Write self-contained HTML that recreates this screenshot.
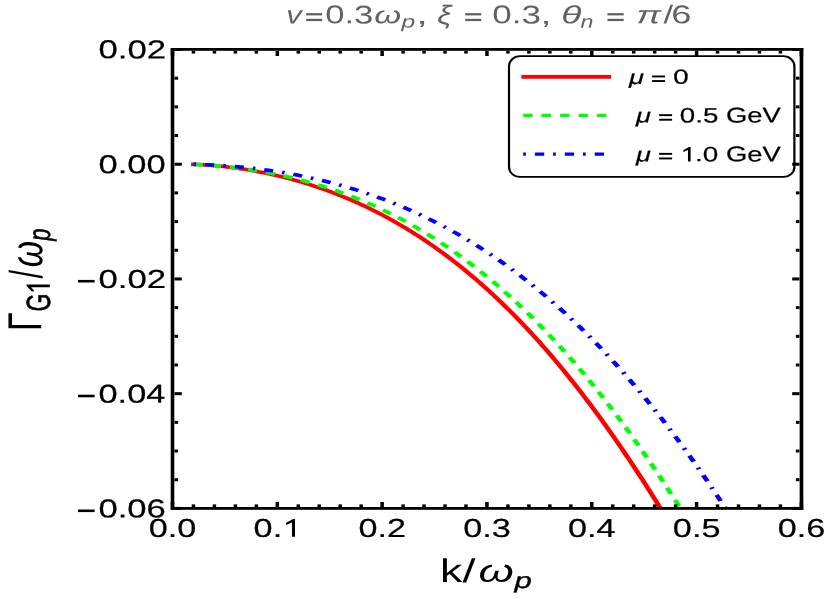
<!DOCTYPE html>
<html><head><meta charset="utf-8"><title>plot</title>
<style>
html,body{margin:0;padding:0;background:#fff;}
svg{display:block;will-change:transform;}
text{font-family:"Liberation Sans",sans-serif;font-kerning:none;}
.i{font-style:italic;}
</style></head><body>
<svg width="828" height="599" viewBox="0 0 828 599">
<rect x="0" y="0" width="828" height="599" fill="#ffffff"/>
<defs><clipPath id="cp"><rect x="172.50" y="49.50" width="628.90" height="458.90"/></clipPath></defs>

<g clip-path="url(#cp)"><g transform="scale(1.35,1)" fill="none" stroke-width="3.6">
<path d="M143.33,164.30 L144.44,164.36 L145.56,164.43 L146.67,164.51 L147.78,164.59 L148.89,164.67 L150.00,164.76 L151.11,164.86 L152.22,164.96 L153.33,165.06 L154.44,165.17 L155.56,165.29 L156.67,165.41 L157.78,165.53 L158.89,165.66 L160.00,165.80 L161.11,165.94 L162.22,166.08 L163.33,166.23 L164.44,166.39 L165.56,166.55 L166.67,166.71 L167.78,166.88 L168.89,167.06 L170.00,167.24 L171.11,167.43 L172.22,167.62 L173.33,167.81 L174.44,168.02 L175.56,168.22 L176.67,168.43 L177.78,168.65 L178.89,168.87 L180.00,169.10 L181.11,169.33 L182.22,169.57 L183.33,169.81 L184.44,170.06 L185.56,170.31 L186.67,170.57 L187.78,170.83 L188.89,171.10 L190.00,171.38 L191.11,171.66 L192.22,171.94 L193.33,172.23 L194.44,172.53 L195.56,172.83 L196.67,173.13 L197.78,173.44 L198.89,173.76 L200.00,174.08 L201.11,174.41 L202.22,174.74 L203.33,175.08 L204.44,175.42 L205.56,175.77 L206.67,176.13 L207.78,176.49 L208.89,176.85 L210.00,177.23 L211.11,177.60 L212.22,177.99 L213.33,178.37 L214.44,178.77 L215.56,179.17 L216.67,179.57 L217.78,179.98 L218.89,180.40 L220.00,180.82 L221.11,181.25 L222.22,181.68 L223.33,182.12 L224.44,182.57 L225.56,183.02 L226.67,183.47 L227.78,183.94 L228.89,184.40 L230.00,184.88 L231.11,185.36 L232.22,185.85 L233.33,186.34 L234.44,186.84 L235.56,187.34 L236.67,187.85 L237.78,188.37 L238.89,188.89 L240.00,189.42 L241.11,189.95 L242.22,190.49 L243.33,191.04 L244.44,191.59 L245.56,192.15 L246.67,192.72 L247.78,193.29 L248.89,193.87 L250.00,194.46 L251.11,195.05 L252.22,195.64 L253.33,196.25 L254.44,196.86 L255.56,197.48 L256.67,198.10 L257.78,198.73 L258.89,199.37 L260.00,200.01 L261.11,200.66 L262.22,201.31 L263.33,201.98 L264.44,202.65 L265.56,203.32 L266.67,204.01 L267.78,204.70 L268.89,205.39 L270.00,206.10 L271.11,206.81 L272.22,207.52 L273.33,208.25 L274.44,208.98 L275.56,209.72 L276.67,210.46 L277.78,211.21 L278.89,211.97 L280.00,212.74 L281.11,213.51 L282.22,214.29 L283.33,215.08 L284.44,215.88 L285.56,216.68 L286.67,217.49 L287.78,218.30 L288.89,219.13 L290.00,219.96 L291.11,220.80 L292.22,221.64 L293.33,222.50 L294.44,223.36 L295.56,224.22 L296.67,225.10 L297.78,225.98 L298.89,226.87 L300.00,227.77 L301.11,228.68 L302.22,229.59 L303.33,230.51 L304.44,231.44 L305.56,232.38 L306.67,233.32 L307.78,234.27 L308.89,235.23 L310.00,236.20 L311.11,237.18 L312.22,238.16 L313.33,239.15 L314.44,240.15 L315.56,241.16 L316.67,242.17 L317.78,243.20 L318.89,244.23 L320.00,245.27 L321.11,246.31 L322.22,247.37 L323.33,248.43 L324.44,249.50 L325.56,250.58 L326.67,251.67 L327.78,252.77 L328.89,253.87 L330.00,254.99 L331.11,256.11 L332.22,257.24 L333.33,258.37 L334.44,259.52 L335.56,260.68 L336.67,261.84 L337.78,263.01 L338.89,264.19 L340.00,265.38 L341.11,266.58 L342.22,267.78 L343.33,269.00 L344.44,270.22 L345.56,271.45 L346.67,272.69 L347.78,273.94 L348.89,275.20 L350.00,276.46 L351.11,277.74 L352.22,279.02 L353.33,280.32 L354.44,281.62 L355.56,282.93 L356.67,284.25 L357.78,285.58 L358.89,286.91 L360.00,288.26 L361.11,289.61 L362.22,290.98 L363.33,292.35 L364.44,293.73 L365.56,295.12 L366.67,296.52 L367.78,297.93 L368.89,299.35 L370.00,300.78 L371.11,302.21 L372.22,303.66 L373.33,305.11 L374.44,306.58 L375.56,308.05 L376.67,309.53 L377.78,311.02 L378.89,312.52 L380.00,314.03 L381.11,315.55 L382.22,317.08 L383.33,318.61 L384.44,320.16 L385.56,321.72 L386.67,323.28 L387.78,324.86 L388.89,326.44 L390.00,328.03 L391.11,329.64 L392.22,331.25 L393.33,332.87 L394.44,334.50 L395.56,336.14 L396.67,337.79 L397.78,339.45 L398.89,341.12 L400.00,342.79 L401.11,344.48 L402.22,346.18 L403.33,347.88 L404.44,349.60 L405.56,351.32 L406.67,353.06 L407.78,354.80 L408.89,356.56 L410.00,358.32 L411.11,360.09 L412.22,361.87 L413.33,363.67 L414.44,365.47 L415.56,367.28 L416.67,369.10 L417.78,370.93 L418.89,372.77 L420.00,374.62 L421.11,376.47 L422.22,378.34 L423.33,380.22 L424.44,382.11 L425.56,384.00 L426.67,385.91 L427.78,387.82 L428.89,389.75 L430.00,391.68 L431.11,393.63 L432.22,395.58 L433.33,397.54 L434.44,399.52 L435.56,401.50 L436.67,403.49 L437.78,405.49 L438.89,407.50 L440.00,409.52 L441.11,411.55 L442.22,413.59 L443.33,415.64 L444.44,417.69 L445.56,419.76 L446.67,421.84 L447.78,423.92 L448.89,426.02 L450.00,428.12 L451.11,430.24 L452.22,432.36 L453.33,434.49 L454.44,436.64 L455.56,438.79 L456.67,440.95 L457.78,443.12 L458.89,445.30 L460.00,447.49 L461.11,449.68 L462.22,451.89 L463.33,454.11 L464.44,456.33 L465.56,458.56 L466.67,460.81 L467.78,463.06 L468.89,465.32 L470.00,467.59 L471.11,469.87 L472.22,472.16 L473.33,474.46 L474.44,476.76 L475.56,479.08 L476.67,481.40 L477.78,483.74 L478.89,486.08 L480.00,488.43 L481.11,490.79 L482.22,493.16 L483.33,495.53 L484.44,497.92 L485.56,500.31 L486.67,502.72 L487.78,505.13 L488.89,507.55 L490.00,509.98 L491.11,512.41" stroke="#ff0000" stroke-linecap="square"/>
<path d="M143.33,164.30 L144.44,164.37 L145.56,164.44 L146.67,164.52 L147.78,164.60 L148.89,164.68 L150.00,164.77 L151.11,164.86 L152.22,164.96 L153.33,165.06 L154.44,165.16 L155.56,165.27 L156.67,165.38 L157.78,165.49 L158.89,165.61 L160.00,165.74 L161.11,165.87 L162.22,166.00 L163.33,166.14 L164.44,166.28 L165.56,166.42 L166.67,166.57 L167.78,166.72 L168.89,166.88 L170.00,167.04 L171.11,167.21 L172.22,167.38 L173.33,167.55 L174.44,167.73 L175.56,167.92 L176.67,168.10 L177.78,168.30 L178.89,168.49 L180.00,168.69 L181.11,168.90 L182.22,169.11 L183.33,169.32 L184.44,169.54 L185.56,169.77 L186.67,169.99 L187.78,170.23 L188.89,170.46 L190.00,170.71 L191.11,170.95 L192.22,171.20 L193.33,171.46 L194.44,171.72 L195.56,171.98 L196.67,172.25 L197.78,172.53 L198.89,172.81 L200.00,173.09 L201.11,173.38 L202.22,173.67 L203.33,173.97 L204.44,174.28 L205.56,174.58 L206.67,174.90 L207.78,175.22 L208.89,175.54 L210.00,175.87 L211.11,176.20 L212.22,176.54 L213.33,176.88 L214.44,177.23 L215.56,177.58 L216.67,177.94 L217.78,178.31 L218.89,178.68 L220.00,179.05 L221.11,179.43 L222.22,179.81 L223.33,180.20 L224.44,180.60 L225.56,181.00 L226.67,181.41 L227.78,181.82 L228.89,182.23 L230.00,182.65 L231.11,183.08 L232.22,183.51 L233.33,183.95 L234.44,184.40 L235.56,184.85 L236.67,185.30 L237.78,185.76 L238.89,186.23 L240.00,186.70 L241.11,187.18 L242.22,187.66 L243.33,188.15 L244.44,188.64 L245.56,189.14 L246.67,189.65 L247.78,190.16 L248.89,190.68 L250.00,191.20 L251.11,191.73 L252.22,192.27 L253.33,192.81 L254.44,193.35 L255.56,193.91 L256.67,194.46 L257.78,195.03 L258.89,195.60 L260.00,196.18 L261.11,196.76 L262.22,197.35 L263.33,197.94 L264.44,198.55 L265.56,199.15 L266.67,199.77 L267.78,200.39 L268.89,201.01 L270.00,201.65 L271.11,202.28 L272.22,202.93 L273.33,203.58 L274.44,204.24 L275.56,204.90 L276.67,205.57 L277.78,206.25 L278.89,206.93 L280.00,207.62 L281.11,208.32 L282.22,209.02 L283.33,209.73 L284.44,210.45 L285.56,211.17 L286.67,211.90 L287.78,212.64 L288.89,213.38 L290.00,214.13 L291.11,214.89 L292.22,215.65 L293.33,216.42 L294.44,217.20 L295.56,217.98 L296.67,218.77 L297.78,219.57 L298.89,220.37 L300.00,221.18 L301.11,222.00 L302.22,222.83 L303.33,223.66 L304.44,224.50 L305.56,225.34 L306.67,226.20 L307.78,227.06 L308.89,227.92 L310.00,228.80 L311.11,229.68 L312.22,230.57 L313.33,231.46 L314.44,232.37 L315.56,233.28 L316.67,234.20 L317.78,235.12 L318.89,236.05 L320.00,236.99 L321.11,237.94 L322.22,238.90 L323.33,239.86 L324.44,240.83 L325.56,241.81 L326.67,242.79 L327.78,243.78 L328.89,244.78 L330.00,245.79 L331.11,246.80 L332.22,247.83 L333.33,248.86 L334.44,249.89 L335.56,250.94 L336.67,251.99 L337.78,253.05 L338.89,254.12 L340.00,255.20 L341.11,256.28 L342.22,257.37 L343.33,258.47 L344.44,259.58 L345.56,260.70 L346.67,261.82 L347.78,262.95 L348.89,264.09 L350.00,265.24 L351.11,266.39 L352.22,267.56 L353.33,268.73 L354.44,269.91 L355.56,271.09 L356.67,272.29 L357.78,273.49 L358.89,274.71 L360.00,275.92 L361.11,277.15 L362.22,278.39 L363.33,279.63 L364.44,280.89 L365.56,282.15 L366.67,283.42 L367.78,284.69 L368.89,285.98 L370.00,287.27 L371.11,288.57 L372.22,289.89 L373.33,291.20 L374.44,292.53 L375.56,293.87 L376.67,295.21 L377.78,296.56 L378.89,297.93 L380.00,299.30 L381.11,300.67 L382.22,302.06 L383.33,303.46 L384.44,304.86 L385.56,306.27 L386.67,307.69 L387.78,309.12 L388.89,310.56 L390.00,312.01 L391.11,313.46 L392.22,314.93 L393.33,316.40 L394.44,317.88 L395.56,319.37 L396.67,320.87 L397.78,322.38 L398.89,323.90 L400.00,325.42 L401.11,326.95 L402.22,328.50 L403.33,330.05 L404.44,331.61 L405.56,333.18 L406.67,334.76 L407.78,336.35 L408.89,337.94 L410.00,339.55 L411.11,341.16 L412.22,342.78 L413.33,344.41 L414.44,346.06 L415.56,347.71 L416.67,349.36 L417.78,351.03 L418.89,352.71 L420.00,354.39 L421.11,356.09 L422.22,357.79 L423.33,359.51 L424.44,361.23 L425.56,362.96 L426.67,364.70 L427.78,366.45 L428.89,368.21 L430.00,369.97 L431.11,371.75 L432.22,373.54 L433.33,375.33 L434.44,377.14 L435.56,378.95 L436.67,380.77 L437.78,382.60 L438.89,384.44 L440.00,386.29 L441.11,388.15 L442.22,390.02 L443.33,391.90 L444.44,393.79 L445.56,395.68 L446.67,397.59 L447.78,399.50 L448.89,401.43 L450.00,403.36 L451.11,405.30 L452.22,407.25 L453.33,409.21 L454.44,411.19 L455.56,413.16 L456.67,415.15 L457.78,417.15 L458.89,419.16 L460.00,421.18 L461.11,423.20 L462.22,425.24 L463.33,427.28 L464.44,429.34 L465.56,431.40 L466.67,433.47 L467.78,435.55 L468.89,437.65 L470.00,439.75 L471.11,441.86 L472.22,443.98 L473.33,446.11 L474.44,448.24 L475.56,450.39 L476.67,452.55 L477.78,454.71 L478.89,456.89 L480.00,459.07 L481.11,461.27 L482.22,463.47 L483.33,465.68 L484.44,467.91 L485.56,470.14 L486.67,472.38 L487.78,474.63 L488.89,476.89 L490.00,479.16 L491.11,481.43 L492.22,483.72 L493.33,486.02 L494.44,488.33 L495.56,490.64 L496.67,492.96 L497.78,495.30 L498.89,497.64 L500.00,499.99 L501.11,502.36 L502.22,504.73 L503.33,507.11 L504.44,509.50 L505.56,511.90 L506.67,514.30" stroke="#00ff00" stroke-dasharray="6.93 6.64"/>
<path d="M143.33,164.30 L144.44,164.34 L145.56,164.38 L146.67,164.42 L147.78,164.46 L148.89,164.51 L150.00,164.57 L151.11,164.62 L152.22,164.68 L153.33,164.75 L154.44,164.81 L155.56,164.88 L156.67,164.95 L157.78,165.03 L158.89,165.11 L160.00,165.19 L161.11,165.28 L162.22,165.37 L163.33,165.46 L164.44,165.56 L165.56,165.66 L166.67,165.76 L167.78,165.87 L168.89,165.98 L170.00,166.09 L171.11,166.21 L172.22,166.33 L173.33,166.45 L174.44,166.58 L175.56,166.71 L176.67,166.85 L177.78,166.99 L178.89,167.13 L180.00,167.28 L181.11,167.43 L182.22,167.58 L183.33,167.74 L184.44,167.90 L185.56,168.06 L186.67,168.23 L187.78,168.40 L188.89,168.57 L190.00,168.75 L191.11,168.94 L192.22,169.12 L193.33,169.31 L194.44,169.51 L195.56,169.71 L196.67,169.91 L197.78,170.11 L198.89,170.32 L200.00,170.54 L201.11,170.75 L202.22,170.97 L203.33,171.20 L204.44,171.43 L205.56,171.66 L206.67,171.90 L207.78,172.14 L208.89,172.39 L210.00,172.63 L211.11,172.89 L212.22,173.15 L213.33,173.41 L214.44,173.67 L215.56,173.94 L216.67,174.21 L217.78,174.49 L218.89,174.77 L220.00,175.06 L221.11,175.35 L222.22,175.65 L223.33,175.94 L224.44,176.25 L225.56,176.56 L226.67,176.87 L227.78,177.18 L228.89,177.50 L230.00,177.83 L231.11,178.16 L232.22,178.49 L233.33,178.83 L234.44,179.17 L235.56,179.52 L236.67,179.87 L237.78,180.22 L238.89,180.58 L240.00,180.95 L241.11,181.32 L242.22,181.69 L243.33,182.07 L244.44,182.45 L245.56,182.84 L246.67,183.23 L247.78,183.63 L248.89,184.03 L250.00,184.44 L251.11,184.85 L252.22,185.26 L253.33,185.69 L254.44,186.11 L255.56,186.54 L256.67,186.98 L257.78,187.41 L258.89,187.86 L260.00,188.31 L261.11,188.76 L262.22,189.22 L263.33,189.69 L264.44,190.16 L265.56,190.63 L266.67,191.11 L267.78,191.59 L268.89,192.08 L270.00,192.58 L271.11,193.08 L272.22,193.58 L273.33,194.09 L274.44,194.61 L275.56,195.13 L276.67,195.65 L277.78,196.18 L278.89,196.72 L280.00,197.26 L281.11,197.80 L282.22,198.36 L283.33,198.91 L284.44,199.47 L285.56,200.04 L286.67,200.61 L287.78,201.19 L288.89,201.78 L290.00,202.37 L291.11,202.96 L292.22,203.56 L293.33,204.17 L294.44,204.78 L295.56,205.39 L296.67,206.02 L297.78,206.65 L298.89,207.28 L300.00,207.92 L301.11,208.56 L302.22,209.21 L303.33,209.87 L304.44,210.53 L305.56,211.20 L306.67,211.87 L307.78,212.55 L308.89,213.24 L310.00,213.93 L311.11,214.63 L312.22,215.33 L313.33,216.04 L314.44,216.75 L315.56,217.47 L316.67,218.20 L317.78,218.93 L318.89,219.67 L320.00,220.42 L321.11,221.17 L322.22,221.92 L323.33,222.69 L324.44,223.46 L325.56,224.23 L326.67,225.01 L327.78,225.80 L328.89,226.60 L330.00,227.40 L331.11,228.20 L332.22,229.01 L333.33,229.83 L334.44,230.66 L335.56,231.49 L336.67,232.33 L337.78,233.17 L338.89,234.02 L340.00,234.88 L341.11,235.75 L342.22,236.62 L343.33,237.49 L344.44,238.38 L345.56,239.27 L346.67,240.16 L347.78,241.07 L348.89,241.98 L350.00,242.89 L351.11,243.82 L352.22,244.75 L353.33,245.68 L354.44,246.63 L355.56,247.57 L356.67,248.53 L357.78,249.50 L358.89,250.47 L360.00,251.44 L361.11,252.43 L362.22,253.42 L363.33,254.42 L364.44,255.42 L365.56,256.43 L366.67,257.45 L367.78,258.48 L368.89,259.51 L370.00,260.55 L371.11,261.60 L372.22,262.65 L373.33,263.71 L374.44,264.78 L375.56,265.85 L376.67,266.94 L377.78,268.03 L378.89,269.12 L380.00,270.23 L381.11,271.34 L382.22,272.46 L383.33,273.58 L384.44,274.72 L385.56,275.86 L386.67,277.00 L387.78,278.16 L388.89,279.32 L390.00,280.49 L391.11,281.67 L392.22,282.85 L393.33,284.05 L394.44,285.25 L395.56,286.45 L396.67,287.67 L397.78,288.89 L398.89,290.12 L400.00,291.36 L401.11,292.60 L402.22,293.86 L403.33,295.12 L404.44,296.38 L405.56,297.66 L406.67,298.94 L407.78,300.24 L408.89,301.53 L410.00,302.84 L411.11,304.16 L412.22,305.48 L413.33,306.81 L414.44,308.15 L415.56,309.49 L416.67,310.85 L417.78,312.21 L418.89,313.58 L420.00,314.95 L421.11,316.34 L422.22,317.73 L423.33,319.13 L424.44,320.54 L425.56,321.96 L426.67,323.39 L427.78,324.82 L428.89,326.26 L430.00,327.71 L431.11,329.17 L432.22,330.64 L433.33,332.11 L434.44,333.59 L435.56,335.08 L436.67,336.58 L437.78,338.09 L438.89,339.60 L440.00,341.13 L441.11,342.66 L442.22,344.20 L443.33,345.75 L444.44,347.30 L445.56,348.87 L446.67,350.44 L447.78,352.02 L448.89,353.61 L450.00,355.21 L451.11,356.82 L452.22,358.43 L453.33,360.06 L454.44,361.69 L455.56,363.33 L456.67,364.98 L457.78,366.63 L458.89,368.30 L460.00,369.97 L461.11,371.66 L462.22,373.35 L463.33,375.05 L464.44,376.76 L465.56,378.48 L466.67,380.20 L467.78,381.94 L468.89,383.68 L470.00,385.43 L471.11,387.19 L472.22,388.96 L473.33,390.74 L474.44,392.53 L475.56,394.32 L476.67,396.13 L477.78,397.94 L478.89,399.76 L480.00,401.59 L481.11,403.43 L482.22,405.28 L483.33,407.13 L484.44,409.00 L485.56,410.87 L486.67,412.76 L487.78,414.65 L488.89,416.55 L490.00,418.46 L491.11,420.38 L492.22,422.31 L493.33,424.24 L494.44,426.19 L495.56,428.14 L496.67,430.11 L497.78,432.08 L498.89,434.06 L500.00,436.05 L501.11,438.05 L502.22,440.06 L503.33,442.08 L504.44,444.10 L505.56,446.14 L506.67,448.18 L507.78,450.23 L508.89,452.30 L510.00,454.37 L511.11,456.45 L512.22,458.54 L513.33,460.64 L514.44,462.74 L515.56,464.86 L516.67,466.99 L517.78,469.12 L518.89,471.26 L520.00,473.42 L521.11,475.58 L522.22,477.75 L523.33,479.93 L524.44,482.12 L525.56,484.32 L526.67,486.53 L527.78,488.74 L528.89,490.97 L530.00,493.20 L531.11,495.45 L532.22,497.70 L533.33,499.97 L534.44,502.24 L535.56,504.52 L536.67,506.81 L537.78,509.11 L538.89,511.42 L540.00,513.73" stroke="#0000ff" stroke-dasharray="1.92 6.71 6.71 6.71"/>
</g></g>
<g transform="scale(1.3,1)"><rect x="391.538" y="56.2" width="219.538" height="120.7" rx="8.5" ry="10" fill="#fff" stroke="#000" stroke-width="1.7"/></g>
<g fill="none" stroke-width="3.7"><path d="M521.4,76.95H611" stroke="#ff0000"/><path d="M523.2,115.4H607" stroke="#00ff00" stroke-dasharray="9.4 9.07" stroke-width="3.2"/><path d="M523.2,154.1H605" stroke="#0000ff" stroke-dasharray="2.7 9.0 9.3 8.9" stroke-width="3.3"/></g>
<g fill="#000"><rect x="170.75" y="51.00" width="3.5" height="5.00"/><rect x="170.75" y="502.00" width="3.5" height="5.00"/><rect x="191.71" y="51.00" width="3.5" height="2.60"/><rect x="191.71" y="504.40" width="3.5" height="2.60"/><rect x="212.68" y="51.00" width="3.5" height="2.60"/><rect x="212.68" y="504.40" width="3.5" height="2.60"/><rect x="233.64" y="51.00" width="3.5" height="2.60"/><rect x="233.64" y="504.40" width="3.5" height="2.60"/><rect x="254.60" y="51.00" width="3.5" height="2.60"/><rect x="254.60" y="504.40" width="3.5" height="2.60"/><rect x="275.57" y="51.00" width="3.5" height="5.00"/><rect x="275.57" y="502.00" width="3.5" height="5.00"/><rect x="296.53" y="51.00" width="3.5" height="2.60"/><rect x="296.53" y="504.40" width="3.5" height="2.60"/><rect x="317.49" y="51.00" width="3.5" height="2.60"/><rect x="317.49" y="504.40" width="3.5" height="2.60"/><rect x="338.46" y="51.00" width="3.5" height="2.60"/><rect x="338.46" y="504.40" width="3.5" height="2.60"/><rect x="359.42" y="51.00" width="3.5" height="2.60"/><rect x="359.42" y="504.40" width="3.5" height="2.60"/><rect x="380.38" y="51.00" width="3.5" height="5.00"/><rect x="380.38" y="502.00" width="3.5" height="5.00"/><rect x="401.35" y="51.00" width="3.5" height="2.60"/><rect x="401.35" y="504.40" width="3.5" height="2.60"/><rect x="422.31" y="51.00" width="3.5" height="2.60"/><rect x="422.31" y="504.40" width="3.5" height="2.60"/><rect x="443.27" y="51.00" width="3.5" height="2.60"/><rect x="443.27" y="504.40" width="3.5" height="2.60"/><rect x="464.24" y="51.00" width="3.5" height="2.60"/><rect x="464.24" y="504.40" width="3.5" height="2.60"/><rect x="485.20" y="51.00" width="3.5" height="5.00"/><rect x="485.20" y="502.00" width="3.5" height="5.00"/><rect x="506.16" y="51.00" width="3.5" height="2.60"/><rect x="506.16" y="504.40" width="3.5" height="2.60"/><rect x="527.13" y="51.00" width="3.5" height="2.60"/><rect x="527.13" y="504.40" width="3.5" height="2.60"/><rect x="548.09" y="51.00" width="3.5" height="2.60"/><rect x="548.09" y="504.40" width="3.5" height="2.60"/><rect x="569.05" y="51.00" width="3.5" height="2.60"/><rect x="569.05" y="504.40" width="3.5" height="2.60"/><rect x="590.02" y="51.00" width="3.5" height="5.00"/><rect x="590.02" y="502.00" width="3.5" height="5.00"/><rect x="610.98" y="51.00" width="3.5" height="2.60"/><rect x="610.98" y="504.40" width="3.5" height="2.60"/><rect x="631.94" y="51.00" width="3.5" height="2.60"/><rect x="631.94" y="504.40" width="3.5" height="2.60"/><rect x="652.91" y="51.00" width="3.5" height="2.60"/><rect x="652.91" y="504.40" width="3.5" height="2.60"/><rect x="673.87" y="51.00" width="3.5" height="2.60"/><rect x="673.87" y="504.40" width="3.5" height="2.60"/><rect x="694.83" y="51.00" width="3.5" height="5.00"/><rect x="694.83" y="502.00" width="3.5" height="5.00"/><rect x="715.80" y="51.00" width="3.5" height="2.60"/><rect x="715.80" y="504.40" width="3.5" height="2.60"/><rect x="736.76" y="51.00" width="3.5" height="2.60"/><rect x="736.76" y="504.40" width="3.5" height="2.60"/><rect x="757.72" y="51.00" width="3.5" height="2.60"/><rect x="757.72" y="504.40" width="3.5" height="2.60"/><rect x="778.69" y="51.00" width="3.5" height="2.60"/><rect x="778.69" y="504.40" width="3.5" height="2.60"/><rect x="799.65" y="51.00" width="3.5" height="5.00"/><rect x="799.65" y="502.00" width="3.5" height="5.00"/><rect x="174.50" y="48.00" width="7.30" height="3"/><rect x="792.20" y="48.00" width="7.30" height="3"/><rect x="174.50" y="76.68" width="3.60" height="3"/><rect x="795.90" y="76.68" width="3.60" height="3"/><rect x="174.50" y="105.36" width="3.60" height="3"/><rect x="795.90" y="105.36" width="3.60" height="3"/><rect x="174.50" y="134.04" width="3.60" height="3"/><rect x="795.90" y="134.04" width="3.60" height="3"/><rect x="174.50" y="162.72" width="7.30" height="3"/><rect x="792.20" y="162.72" width="7.30" height="3"/><rect x="174.50" y="191.41" width="3.60" height="3"/><rect x="795.90" y="191.41" width="3.60" height="3"/><rect x="174.50" y="220.09" width="3.60" height="3"/><rect x="795.90" y="220.09" width="3.60" height="3"/><rect x="174.50" y="248.77" width="3.60" height="3"/><rect x="795.90" y="248.77" width="3.60" height="3"/><rect x="174.50" y="277.45" width="7.30" height="3"/><rect x="792.20" y="277.45" width="7.30" height="3"/><rect x="174.50" y="306.13" width="3.60" height="3"/><rect x="795.90" y="306.13" width="3.60" height="3"/><rect x="174.50" y="334.81" width="3.60" height="3"/><rect x="795.90" y="334.81" width="3.60" height="3"/><rect x="174.50" y="363.49" width="3.60" height="3"/><rect x="795.90" y="363.49" width="3.60" height="3"/><rect x="174.50" y="392.17" width="7.30" height="3"/><rect x="792.20" y="392.17" width="7.30" height="3"/><rect x="174.50" y="420.86" width="3.60" height="3"/><rect x="795.90" y="420.86" width="3.60" height="3"/><rect x="174.50" y="449.54" width="3.60" height="3"/><rect x="795.90" y="449.54" width="3.60" height="3"/><rect x="174.50" y="478.22" width="3.60" height="3"/><rect x="795.90" y="478.22" width="3.60" height="3"/><rect x="174.50" y="506.90" width="7.30" height="3"/><rect x="792.20" y="506.90" width="7.30" height="3"/></g>
<g fill="#000"><rect x="170.70" y="48.00" width="3.6" height="461.80"/><rect x="799.65" y="48.00" width="3.65" height="461.80"/><rect x="170.70" y="48.00" width="632.60" height="2.8"/><rect x="170.70" y="507.00" width="632.60" height="2.8"/></g>
<text stroke="#000" stroke-width="0.214" transform="translate(98.47,58.37) skewY(0.05) scale(1.3340,1)" font-size="26.06">0.02</text>
<text stroke="#000" stroke-width="0.215" transform="translate(98.48,173.17) skewY(0.05) scale(1.3259,1)" font-size="26.06">0.00</text>
<text stroke="#000" stroke-width="0.214" transform="translate(98.47,287.97) skewY(0.05) scale(1.3340,1)" font-size="26.06">0.02</text>
<rect x="78" y="279.90" width="16.6" height="2.6" fill="#000"/>
<text stroke="#000" stroke-width="0.216" transform="translate(98.48,402.77) skewY(0.05) scale(1.3190,1)" font-size="26.06">0.04</text>
<rect x="78" y="394.70" width="16.6" height="2.6" fill="#000"/>
<text stroke="#000" stroke-width="0.215" transform="translate(98.47,517.57) skewY(0.05) scale(1.3294,1)" font-size="26.06">0.06</text>
<rect x="78" y="509.50" width="16.6" height="2.6" fill="#000"/>
<text stroke="#000" stroke-width="0.216" transform="translate(148.79,537.02) skewY(0.05) scale(1.3138,1)" font-size="26.06">0.0</text>
<text stroke="#000" stroke-width="0.216" transform="translate(253.61,537.02) skewY(0.05) scale(1.3138,1)" font-size="26.06">0.</text>
<path transform="translate(285.92,519.00)" d="M9.10,0 V17.80 H6.05 V3.51 L0.18,6.11 L0,4.09 L7.10,0 Z" fill="#000"/>
<text stroke="#000" stroke-width="0.216" transform="translate(358.42,537.02) skewY(0.05) scale(1.3138,1)" font-size="26.06">0.2</text>
<text stroke="#000" stroke-width="0.216" transform="translate(463.24,537.02) skewY(0.05) scale(1.3138,1)" font-size="26.06">0.3</text>
<text stroke="#000" stroke-width="0.216" transform="translate(568.06,537.02) skewY(0.05) scale(1.3138,1)" font-size="26.06">0.4</text>
<text stroke="#000" stroke-width="0.216" transform="translate(672.87,537.02) skewY(0.05) scale(1.3138,1)" font-size="26.06">0.5</text>
<text stroke="#000" stroke-width="0.216" transform="translate(777.69,537.02) skewY(0.05) scale(1.3138,1)" font-size="26.06">0.6</text>
<text transform="translate(439.90,582.00) skewY(0.05) scale(1.3537,1)" font-size="32.85">k</text>
<text transform="translate(462.50,582.28) skewY(0.05) scale(1.4083,1)" font-size="33.23">/</text>
<text class="i" transform="translate(478.42,581.69) skewY(0.05) scale(1.4212,1)" font-size="31.91">ω</text>
<text class="i" stroke="#000" stroke-width="0.332" transform="translate(514.48,588.11) skewY(0.05) scale(1.4079,1)" font-size="22.13">p</text>
<text transform="translate(41.32,330.89) rotate(-90) skewY(0.05) scale(1,1.4014)" font-size="34.02">Γ</text>
<text stroke="#000" stroke-width="0.408" transform="translate(50.02,311.51) rotate(-90) skewY(0.05) scale(1,1.4533)" font-size="23.13">G</text>
<text transform="translate(42.15,278.60) rotate(-90) skewY(0.05) scale(1,1.5001)" font-size="30.95">/</text>
<text class="i" transform="translate(42.16,267.20) rotate(-90) skewY(0.05) scale(1,1.3406)" font-size="33.74">ω</text>
<text class="i" stroke="#000" stroke-width="0.414" transform="translate(49.92,240.71) rotate(-90) skewY(0.05) scale(1,1.4170)" font-size="21.86">p</text>
<path transform="translate(26.50,291.50) rotate(-90)" d="M7.00,0 V23.30 H4.20 V4.59 L0.14,7.99 L0,5.36 L5.46,0 Z" fill="#000"/>
<g fill="#626262"><text class="i" transform="translate(286.20,23.60) skewY(0.05) scale(1.2324,1)" font-size="25.17">v</text><rect x="306.20" y="13.10" width="15.90" height="2.3"/><rect x="306.20" y="18.80" width="15.90" height="2.3"/><text transform="translate(325.15,23.35) skewY(0.05) scale(1.3482,1)" font-size="25.71">0.3</text><text class="i" transform="translate(374.17,23.36) skewY(0.05) scale(1.4255,1)" font-size="24.26">ω</text><text class="i" transform="translate(401.61,27.55) skewY(0.05) scale(1.4000,1)" font-size="17.57">p</text><text transform="translate(416.15,23.69) skewY(0.05) scale(1.6630,1)" font-size="25.12">,</text><text class="i" transform="translate(437.14,23.97) skewY(0.05) scale(1.2061,1)" font-size="26.46">ξ</text><rect x="465.20" y="13.10" width="16.10" height="2.3"/><rect x="465.20" y="18.80" width="16.10" height="2.3"/><text transform="translate(492.33,23.35) skewY(0.05) scale(1.3601,1)" font-size="25.71">0.3</text><text transform="translate(540.53,23.69) skewY(0.05) scale(1.5818,1)" font-size="25.12">,</text><text class="i" transform="translate(561.17,23.36) skewY(0.05) scale(1.4995,1)" font-size="24.78">θ</text><text class="i" transform="translate(580.61,27.80) skewY(0.05) scale(1.2898,1)" font-size="18.04">n</text><rect x="607.50" y="13.10" width="16.20" height="2.3"/><rect x="607.50" y="18.80" width="16.20" height="2.3"/><text class="i" transform="translate(636.46,23.36) skewY(0.05) scale(1.4904,1)" font-size="24.72">π</text><text transform="translate(663.50,23.35) skewY(0.05) scale(1.3497,1)" font-size="25.60">/</text><text transform="translate(671.26,23.35) skewY(0.05) scale(1.4079,1)" font-size="25.71">6</text></g>
<g fill="#000"><text class="i" stroke="#000" stroke-width="0.211" transform="translate(628.90,84.02) skewY(0.05) scale(1.3661,1)" font-size="20.06">μ</text><rect x="652.10" y="75.50" width="12.90" height="1.9"/><rect x="652.10" y="80.10" width="12.90" height="1.9"/><text stroke="#000" stroke-width="0.213" transform="translate(673.14,83.87) skewY(0.05) scale(1.3488,1)" font-size="20.55">0</text><text class="i" stroke="#000" stroke-width="0.213" transform="translate(636.00,122.60) skewY(0.05) scale(1.3478,1)" font-size="20.20">μ</text><rect x="659.10" y="114.20" width="13.00" height="1.9"/><rect x="659.10" y="118.80" width="13.00" height="1.9"/><text stroke="#000" stroke-width="0.214" transform="translate(679.84,122.57) skewY(0.05) scale(1.3329,1)" font-size="20.83">0.5</text><text stroke="#000" stroke-width="0.219" transform="translate(725.95,122.57) skewY(0.05) scale(1.2786,1)" font-size="21.40">GeV</text><text class="i" stroke="#000" stroke-width="0.215" transform="translate(636.00,161.54) skewY(0.05) scale(1.3295,1)" font-size="20.48">μ</text><rect x="659.10" y="152.90" width="13.00" height="1.9"/><rect x="659.10" y="157.50" width="13.00" height="1.9"/><text stroke="#000" stroke-width="0.214" transform="translate(695.08,161.37) skewY(0.05) scale(1.3315,1)" font-size="20.97">.0</text><text stroke="#000" stroke-width="0.219" transform="translate(725.95,161.37) skewY(0.05) scale(1.2786,1)" font-size="21.40">GeV</text><path transform="translate(683.30,147.00)" d="M7.30,0 V14.60 H4.67 V2.88 L0.15,5.01 L0,3.36 L5.69,0 Z" fill="#000"/></g>
</svg></body></html>
